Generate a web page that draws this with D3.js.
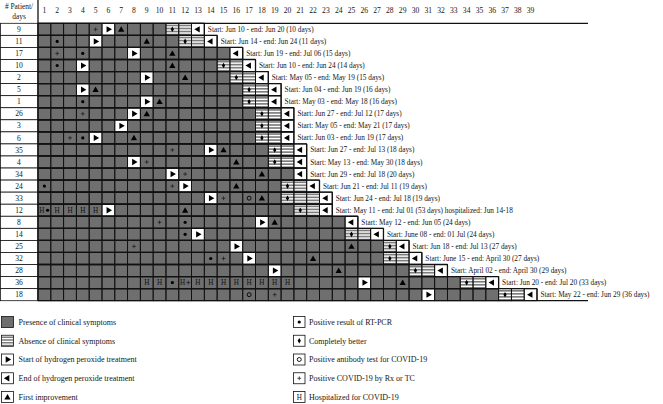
<!DOCTYPE html>
<html>
<head>
<meta charset="utf-8">
<script src="https://cdn.jsdelivr.net/npm/d3@7"></script>
<style>
  body { margin: 0; background: #fff; }
  svg { display: block; font-family: "Liberation Serif", "DejaVu Serif", serif; }
</style>
</head>
<body>
<svg id="chart" width="663" height="404"></svg>
<script>
// patients in row order, with day of each event (day 1..39)
const patients   = ["9","11","17","10","2","5","1","26","3","6","35","4","34","24","33","12","8","14","25","32","28","36","18"];
const startDay   = [6,5,8,4,9,4,9,8,7,5,14,8,11,12,14,6,18,13,16,17,19,26,31];
const endDay     = [13,14,16,17,18,19,19,20,20,20,21,21,21,22,23,23,25,27,29,30,32,36,39];
const absentFrom = [11,12,null,15,16,17,17,18,18,18,19,19,null,20,20,21,null,25,28,28,30,34,37];
const betterDay  = [11,12,null,15,16,17,17,18,18,18,19,19,null,20,20,21,null,25,28,28,30,34,37];
const improveDay = [7,9,11,11,12,5,10,9,null,8,15,16,18,16,18,12,19,null,25,22,24,29,null];
const pcrDays    = [[],[2],[4],[2],[],[],[4],[],[],[4],[],[],[],[1],[],[1],[12],[12],[],[14],[],[11],[]];
const rxDays     = [[5],[],[2],[],[],[],[],[4],[],[3],[11],[9],[12],[11],[15],[],[10],[],[8],[15],[],[12],[19]];
const antiDays   = [[],[],[],[],[],[],[],[],[],[],[],[],[],[],[17],[],[],[],[],[],[],[],[17]];
const hospDays   = [[],[],[],[],[],[],[],[],[],[],[],[],[],[],[],[1,2,3,4,5],[],[],[],[],[],[9,10,12,13,14,15,16,17,18,19,20],[]];
const rangeLabels = [
  "Start: Jun 10 - end: Jun 20 (10 days)",
  "Start: Jun 14 - end: Jun 24 (11 days)",
  "Start: Jun 19 - end: Jul 06 (15 days)",
  "Start: Jun 10 - end: Jun 24 (14 days)",
  "Start: May 05 - end: May 19 (15 days)",
  "Start: Jun 04 - end: Jun 19 (16 days)",
  "Start: May 03 - end: May 18 (16 days)",
  "Start: Jun 27 - end: Jul 12 (17 days)",
  "Start: May 05 - end: May 21 (17 days)",
  "Start: Jun 03 - end: Jun 19 (17 days)",
  "Start: Jun 27 - end: Jul 13 (18 days)",
  "Start: May 13 - end: May 30 (18 days)",
  "Start: Jun 29 - end: Jul 18 (20 days)",
  "Start: Jun 21 - end: Jul 11 (19 days)",
  "Start: Jun 24 - end: Jul 18 (19 days)",
  "Start: May 11 - end: Jul 01 (53 days) hospitalized: Jun 14-18",
  "Start: May 12 - end: Jun 05 (24 days)",
  "Start: June 08 - end: 01 Jul (24 days)",
  "Start: Jun 18 - end: Jul 13 (27 days)",
  "Start: June 15 - end: April 30 (27 days)",
  "Start: April 02 - end: April 30 (29 days)",
  "Start: Jun 20 - end: Jul 20 (33 days)",
  "Start: May 22 - end: Jun 29 (36 days)"
];
const days = d3.range(1, 40);
const legendLeft  = ["Presence of clinical symptoms", "Absence of clinical symptoms",
  "Start of hydrogen peroxide treatment", "End of hydrogen peroxide treatment", "First improvement"];
const legendRight = ["Positive result of RT-PCR", "Completely better",
  "Positive antibody test for COVID-19", "Positive COVID-19 by Rx or TC", "Hospitalized for COVID-19"];

const GRAY = "#6f6f6f", STRIPE = "#7d7d7d", INK = "#151515";
const svg = d3.select("#chart");

const x = d3.scaleBand().domain(days).range([38, 537]);
const y = d3.scaleBand().domain(d3.range(patients.length)).range([23.3, 300.7]);
const bw = x.bandwidth(), bh = y.bandwidth();
const lineEnd = 588;

// header
svg.append("g")
  .attr("transform", "translate(0,16)")
  .call(d3.axisTop(x).tickSize(0).tickPadding(3))
  .call(g => g.select(".domain").remove())
  .selectAll("text")
  .attr("font-family", "Liberation Serif, serif")
  .attr("font-size", 7.6)
  .attr("fill", INK);

svg.append("text").attr("x", 19).attr("y", 9).attr("text-anchor", "middle")
  .attr("font-size", 7.4).attr("fill", INK).text("# Patient/");
svg.append("text").attr("x", 19).attr("y", 18.5).attr("text-anchor", "middle")
  .attr("font-size", 7.4).attr("fill", INK).text("days");

// patient label column
const lab = svg.append("g");
patients.forEach((p, i) => {
  lab.append("rect").attr("x", 0.5).attr("y", y(i)).attr("width", 37.5).attr("height", bh)
    .attr("fill", "#fff").attr("stroke", "#111").attr("stroke-width", 0.8);
  lab.append("text").attr("x", 19).attr("y", y(i) + bh / 2).attr("dy", "0.35em")
    .attr("text-anchor", "middle").attr("font-size", 7.6).attr("fill", INK).text(p);
});

// cells
const cells = [];
patients.forEach((p, i) => {
  for (let d = 1; d <= endDay[i]; d++) {
    let type = "present";
    if (d === endDay[i]) type = "end";
    else if (d === startDay[i]) type = "start";
    else if (absentFrom[i] != null && d >= absentFrom[i]) type = "absent";
    cells.push({ i, d, type });
  }
});

const grid = svg.append("g");
grid.selectAll("rect.cell").data(cells).join("rect")
  .attr("class", "cell")
  .attr("x", c => x(c.d)).attr("y", c => y(c.i))
  .attr("width", bw).attr("height", bh)
  .attr("fill", c => c.type === "present" ? GRAY : "#fff");

// stripes for absence of symptoms
function stripes(g, x0, y0, w, h) {
  const n = 4, step = h / n;
  for (let k = 0; k < n; k++) {
    g.append("rect").attr("x", x0).attr("y", y0 + k * step + step * 0.45)
      .attr("width", w).attr("height", step * 0.55).attr("fill", STRIPE);
  }
}
cells.filter(c => c.type === "absent").forEach(c => stripes(grid, x(c.d), y(c.i), bw, bh));

grid.selectAll("rect.border").data(cells).join("rect")
  .attr("class", "border")
  .attr("x", c => x(c.d)).attr("y", c => y(c.i))
  .attr("width", bw).attr("height", bh)
  .attr("fill", "none").attr("stroke", "#111").attr("stroke-width", 0.9);

// outline staircase
const outline = svg.append("g").attr("stroke", "#111").attr("stroke-width", 1.3).attr("fill", "none");
outline.append("line").attr("x1", 38).attr("x2", lineEnd).attr("y1", y(0)).attr("y2", y(0));
outline.append("line").attr("x1", 38).attr("x2", 38).attr("y1", 0).attr("y2", y(patients.length - 1) + bh);
patients.forEach((p, i) => {
  const xe = x(endDay[i]) + bw;
  outline.append("line").attr("x1", 38).attr("x2", xe).attr("y1", y(i)).attr("y2", y(i));
  outline.append("line").attr("x1", 38).attr("x2", i === patients.length - 1 ? lineEnd : xe)
    .attr("y1", y(i) + bh).attr("y2", y(i) + bh);
  outline.append("line").attr("x1", xe).attr("x2", xe).attr("y1", y(i)).attr("y2", y(i) + bh);
});

// range labels
svg.append("g").selectAll("text").data(rangeLabels).join("text")
  .attr("x", (t, i) => x(endDay[i]) + bw + 3.5)
  .attr("y", (t, i) => y(i) + bh / 2).attr("dy", "0.35em")
  .attr("font-size", 7.3).attr("fill", INK).text(t => t);

// markers
const tri = d3.symbol(d3.symbolTriangle, 17)();
const marks = svg.append("g");
const cx = d => x(d) + bw / 2, cy = i => y(i) + bh / 2;

function drawTri(g, px, py, rot) {
  g.append("path").attr("d", tri).attr("fill", "#000")
    .attr("transform", `translate(${px},${py + (rot === 0 ? 0.6 : 0)}) rotate(${rot})`);
}
function drawDot(g, px, py) { g.append("circle").attr("cx", px).attr("cy", py).attr("r", 1.6).attr("fill", "#000"); }
function drawDiamond(g, px, py) {
  g.append("path").attr("d", d3.symbol(d3.symbolDiamond, 9)()).attr("fill", "#000")
    .attr("transform", `translate(${px},${py})`);
}
function drawRing(g, px, py) {
  g.append("circle").attr("cx", px).attr("cy", py).attr("r", 2).attr("fill", "none")
    .attr("stroke", "#000").attr("stroke-width", 0.9);
}
function drawPlus(g, px, py) {
  g.append("path").attr("d", `M${px - 1.9},${py}H${px + 1.9}M${px},${py - 1.9}V${py + 1.9}`)
    .attr("stroke", "#222").attr("stroke-width", 0.8);
}
function drawH(g, px, py) {
  g.append("text").attr("x", px).attr("y", py).attr("dy", "0.35em").attr("text-anchor", "middle")
    .attr("font-size", 7.2).attr("fill", "#111").text("H");
}

patients.forEach((p, i) => {
  drawTri(marks, cx(startDay[i]), cy(i), 90);
  drawTri(marks, cx(endDay[i]), cy(i), -90);
  if (improveDay[i] != null) drawTri(marks, cx(improveDay[i]), cy(i), 0);
  if (betterDay[i] != null) drawDiamond(marks, cx(betterDay[i]), cy(i));
  const hs = hospDays[i];
  hs.forEach(d => {
    const shared = pcrDays[i].includes(d) || rxDays[i].includes(d);
    drawH(marks, cx(d) - (shared ? 2.6 : 0), cy(i));
  });
  pcrDays[i].forEach(d => drawDot(marks, cx(d) + (hs.includes(d) ? 3.2 : 0), cy(i)));
  rxDays[i].forEach(d => drawPlus(marks, cx(d) + (hs.includes(d) ? 3.2 : 0), cy(i)));
  antiDays[i].forEach(d => drawRing(marks, cx(d), cy(i)));
});

// legend
const ly = d3.scaleLinear().domain([0, 4]).range([322, 397]);
const lg = svg.append("g");
legendLeft.forEach((t, k) => {
  const yy = ly(k), bx = 1.5, by = yy - 5.5, s = 12, h = 11;
  lg.append("rect").attr("x", bx).attr("y", by).attr("width", s).attr("height", h)
    .attr("fill", k === 0 ? GRAY : "#fff");
  if (k === 1) stripes(lg, bx, by, s, h);
  lg.append("rect").attr("x", bx).attr("y", by).attr("width", s).attr("height", h)
    .attr("fill", "none").attr("stroke", "#111").attr("stroke-width", 0.8);
  if (k === 2) drawTri(lg, bx + s / 2, yy, 90);
  if (k === 3) drawTri(lg, bx + s / 2, yy, -90);
  if (k === 4) drawTri(lg, bx + s / 2, yy, 0);
  lg.append("text").attr("x", 18.5).attr("y", yy).attr("dy", "0.35em")
    .attr("font-size", 8).attr("fill", INK).text(t);
});
legendRight.forEach((t, k) => {
  const yy = ly(k), bx = 293.5, by = yy - 5.5, s = 11.5, h = 11;
  lg.append("rect").attr("x", bx).attr("y", by).attr("width", s).attr("height", h)
    .attr("fill", "#fff").attr("stroke", "#111").attr("stroke-width", 0.8);
  const px = bx + s / 2;
  if (k === 0) drawDot(lg, px, yy);
  if (k === 1) drawDiamond(lg, px, yy);
  if (k === 2) drawRing(lg, px, yy);
  if (k === 3) drawPlus(lg, px, yy);
  if (k === 4) drawH(lg, px, yy);
  lg.append("text").attr("x", 309).attr("y", yy).attr("dy", "0.35em")
    .attr("font-size", 8).attr("fill", INK).text(t);
});
</script>
</body>
</html>
